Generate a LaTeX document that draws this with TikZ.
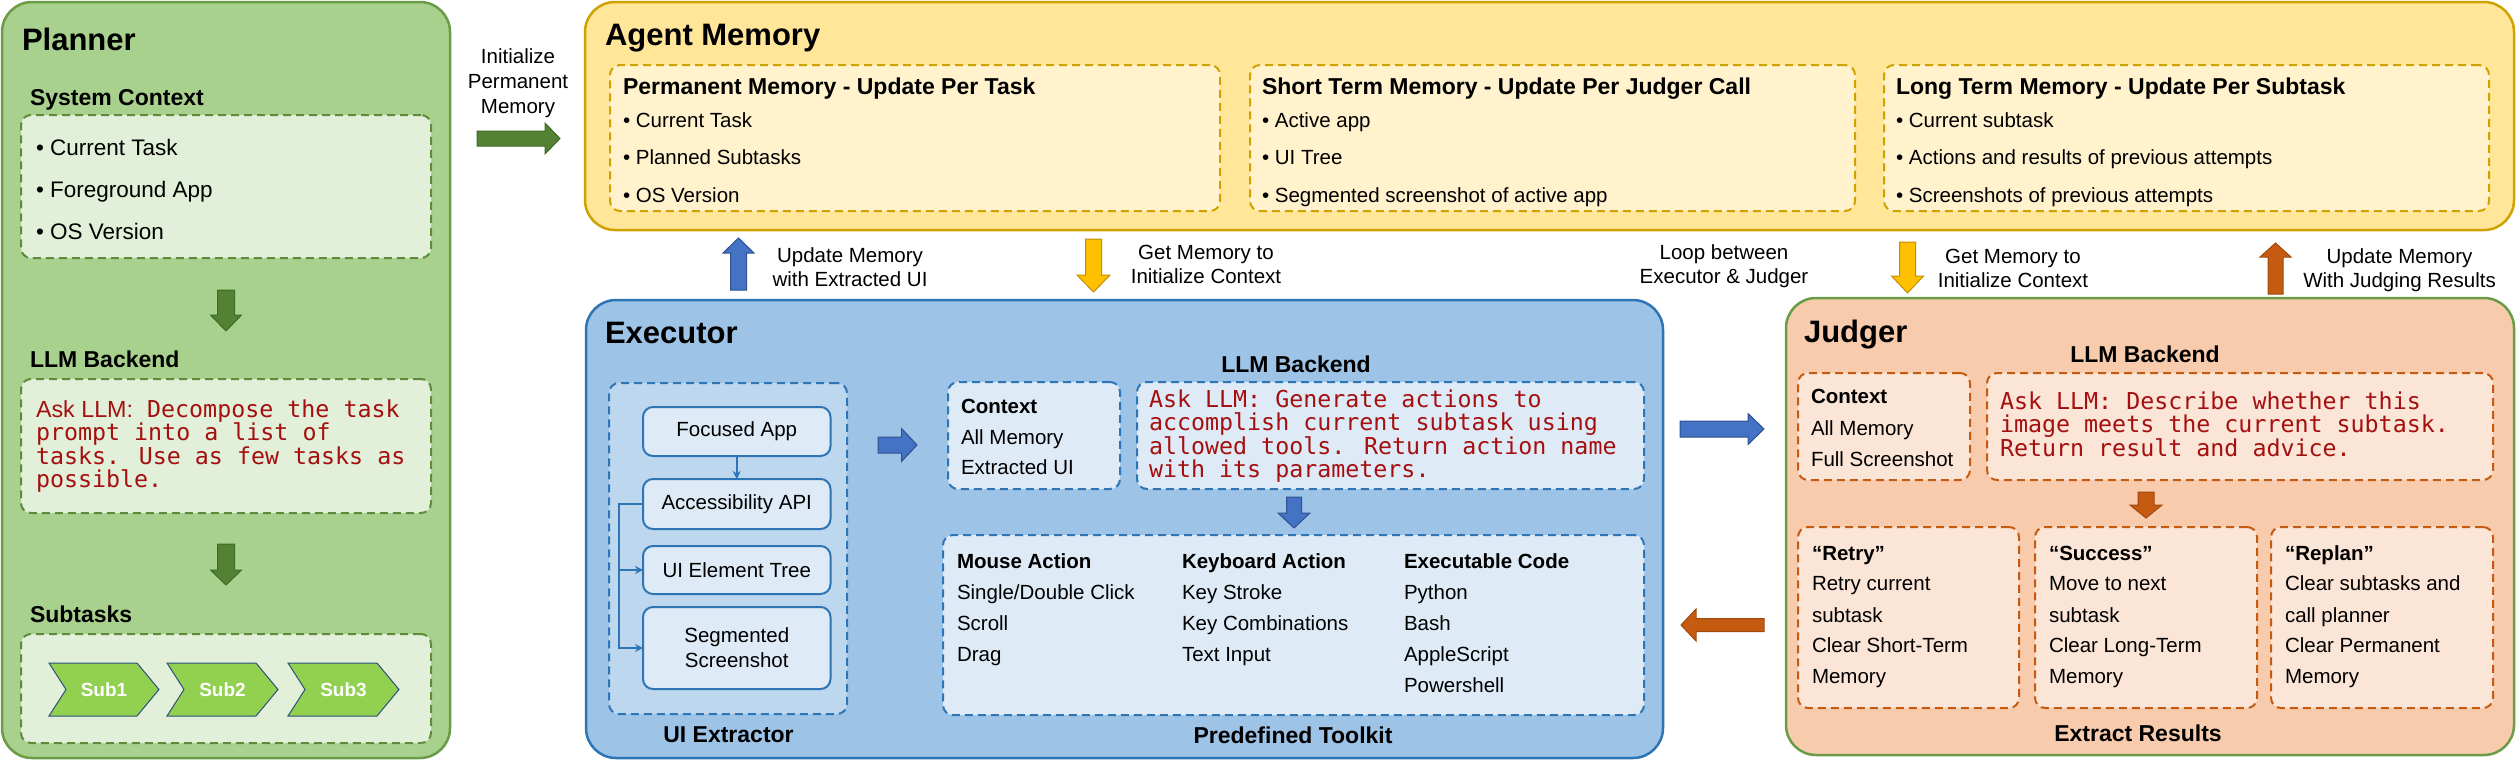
\documentclass[tikz,border=0pt]{standalone}
\usepackage{fontspec}
\setmainfont{Liberation Sans}
\newfontfamily\monof{DejaVu Sans Mono}
\usetikzlibrary{arrows.meta}

\definecolor{plF}{HTML}{A9D18E}
\definecolor{plB}{HTML}{6A9B47}
\definecolor{plI}{HTML}{E2F0D9}
\definecolor{plD}{HTML}{5E8A3C}
\definecolor{grA}{HTML}{548235}
\definecolor{grAB}{HTML}{3F6A26}
\definecolor{amF}{HTML}{FFE699}
\definecolor{amB}{HTML}{CFA200}
\definecolor{amI}{HTML}{FFF2CC}
\definecolor{exF}{HTML}{9DC3E6}
\definecolor{exB}{HTML}{2E75B6}
\definecolor{exU}{HTML}{BDD7EE}
\definecolor{exI}{HTML}{DEEBF7}
\definecolor{blA}{HTML}{4472C4}
\definecolor{blAB}{HTML}{2F528F}
\definecolor{ylA}{HTML}{FFC000}
\definecolor{ylAB}{HTML}{BF9000}
\definecolor{jgF}{HTML}{F8CBAD}
\definecolor{jgI}{HTML}{FBE5D6}
\definecolor{orA}{HTML}{C55A11}
\definecolor{orAB}{HTML}{9E4A0E}
\definecolor{redt}{HTML}{A50F0F}
\definecolor{chev}{HTML}{92D050}
\definecolor{chevB}{HTML}{2F4F7F}

\newcounter{tn}
\newcommand{\tx}[4][]{\stepcounter{tn}\edef\tnm{tx\arabic{tn}}\node[anchor=base west,#1] (\tnm) at (#2,#3) {#4};}
\newcommand{\tc}[4][]{\stepcounter{tn}\edef\tnm{tx\arabic{tn}}\node[anchor=base,#1] (\tnm) at (#2,#3) {#4};}
\newcommand{\bx}[6]{\node[#2, anchor=north west, minimum width={#5-#3}, minimum height={#6-#4}] (#1) at (#3,#4) {};}
% block arrows: style, tail, tip, center, shaft half, head half, head length
\newcommand{\arrR}[7]{\filldraw[#1] (#2,{#4-#5}) -- ({#3-#7},{#4-#5}) -- ({#3-#7},{#4-#6}) -- (#3,#4) -- ({#3-#7},{#4+#6}) -- ({#3-#7},{#4+#5}) -- (#2,{#4+#5}) -- cycle;}
\newcommand{\arrL}[7]{\filldraw[#1] (#2,{#4-#5}) -- ({#3+#7},{#4-#5}) -- ({#3+#7},{#4-#6}) -- (#3,#4) -- ({#3+#7},{#4+#6}) -- ({#3+#7},{#4+#5}) -- (#2,{#4+#5}) -- cycle;}
\newcommand{\arrD}[7]{\filldraw[#1] ({#4-#5},#2) -- ({#4-#5},{#3-#7}) -- ({#4-#6},{#3-#7}) -- (#4,#3) -- ({#4+#6},{#3-#7}) -- ({#4+#5},{#3-#7}) -- ({#4+#5},#2) -- cycle;}
\newcommand{\arrU}[7]{\filldraw[#1] ({#4-#5},#2) -- ({#4-#5},{#3+#7}) -- ({#4-#6},{#3+#7}) -- (#4,#3) -- ({#4+#6},{#3+#7}) -- ({#4+#5},{#3+#7}) -- ({#4+#5},#2) -- cycle;}
\newcommand{\chevron}[5]{% name, left, right, top, bottom
  \filldraw[chevst] (#2,#4) -- ({#3-22},#4) -- (#3,{(#4+#5)/2}) -- ({#3-22},#5) -- (#2,#5) -- ({#2+17},{(#4+#5)/2}) -- cycle;
  \node[chevtext] (#1) at ({(#2+#3)/2},{(#4+#5)/2}) {\csname chevlbl\endcsname};}

\begin{document}
\begin{tikzpicture}[x=1pt,y=-1pt,
  every node/.style={inner sep=0pt, outer sep=0pt},
  bigbox/.style={rounded corners=30pt, line width=2.5pt},
  dbox/.style={rounded corners=10pt, line width=2pt, dash pattern=on 8pt off 5pt},
  uibox/.style={draw=exB, fill=exI, rounded corners=10pt, line width=2pt, font=\fontsize{20.5}{25}\selectfont, align=center},
  t/.style={font=\fontsize{20.5}{24}\selectfont},
  tP/.style={font=\fontsize{22.5}{26}\selectfont},
  tb/.style={font=\bfseries\fontsize{20.5}{24}\selectfont},
  h/.style={font=\bfseries\fontsize{23}{27}\selectfont},
  ttl/.style={font=\bfseries\fontsize{31}{36}\selectfont},
  red/.style={font=\monof\fontsize{23.3}{24}\selectfont, text=redt},
  chevst/.style={fill=chev, draw=chevB, line width=1pt},
  chevtext/.style={font=\bfseries\fontsize{19}{22}\selectfont, text=white},
  garr/.style={fill=grA, draw=grAB, line width=1pt},
  barr/.style={fill=blA, draw=blAB, line width=1pt},
  yarr/.style={fill=ylA, draw=ylAB, line width=1pt},
  oarr/.style={fill=orA, draw=orAB, line width=1pt},
  conn/.style={draw=exB, line width=2pt, -{Stealth[length=8pt,width=8pt]}}]
\useasboundingbox (0,0) rectangle (2516,764);

% ---------------- Planner ----------------
\bx{planner}{bigbox, draw=plB, fill=plF}{2}{2}{450}{758}
\tx[ttl]{22}{50}{Planner}
\tx[h]{30}{105}{System Context}
\bx{sysctx}{dbox, draw=plD, fill=plI}{21}{115}{431}{258}
\tx[tP]{36}{155}{• Current Task}
\tx[tP]{36}{197}{• Foreground App}
\tx[tP]{36}{239}{• OS Version}
\arrD{garr}{290}{331}{226}{8.5}{15.5}{16}
\tx[h]{30}{367}{LLM Backend}
\bx{pllm}{dbox, draw=plD, fill=plI}{21}{379}{431}{513}
\tx[red]{36}{417}{{\rmfamily Ask LLM:} Decompose the task}
\tx[red]{36}{440.5}{prompt into a list of}
\tx[red]{36}{464}{tasks. Use as few tasks as}
\tx[red]{36}{487.5}{possible.}
\arrD{garr}{544}{585}{226}{8.5}{15.5}{15}
\tx[h]{30}{622}{Subtasks}
\bx{subs}{dbox, draw=plD, fill=plI}{21}{634}{431}{743}
\def\chevlbl{Sub1}\chevron{sub1}{49}{159}{663}{716}
\def\chevlbl{Sub2}\chevron{sub2}{167}{278}{663}{716}
\def\chevlbl{Sub3}\chevron{sub3}{288}{399}{663}{716}

% init arrow
\tc[t]{518}{63}{Initialize}
\tc[t]{518}{88}{Permanent}
\tc[t]{518}{113}{Memory}
\arrR{garr}{477}{560}{138.5}{7.5}{15.5}{15}

% ---------------- Agent Memory ----------------
\bx{mem}{bigbox, draw=amB, fill=amF}{585}{2}{2514}{230}
\tx[ttl]{605}{45}{Agent Memory}
\bx{perm}{dbox, draw=amB, fill=amI}{610}{65}{1220}{211}
\bx{short}{dbox, draw=amB, fill=amI}{1250}{65}{1855}{211}
\bx{long}{dbox, draw=amB, fill=amI}{1884}{65}{2489}{211}
\tx[h]{623}{94}{Permanent Memory - Update Per Task}
\tx[t]{623}{127}{• Current Task}
\tx[t]{623}{164}{• Planned Subtasks}
\tx[t]{623}{202}{• OS Version}
\tx[h]{1262}{94}{Short Term Memory - Update Per Judger Call}
\tx[t]{1262}{127}{• Active app}
\tx[t]{1262}{164}{• UI Tree}
\tx[t]{1262}{202}{• Segmented screenshot of active app}
\tx[h]{1896}{94}{Long Term Memory - Update Per Subtask}
\tx[t]{1896}{127}{• Current subtask}
\tx[t]{1896}{164}{• Actions and results of previous attempts}
\tx[t]{1896}{202}{• Screenshots of previous attempts}

% between arrows
\arrU{barr}{290}{238}{738.5}{8}{15.5}{15}
\tc[t]{850}{262}{Update Memory}
\tc[t]{850}{286}{with Extracted UI}
\arrD{yarr}{239}{292}{1093.5}{8}{16.5}{17}
\tc[t]{1206}{259}{Get Memory to}
\tc[t]{1206}{283}{Initialize Context}
\tc[t]{1724}{259}{Loop between}
\tc[t]{1724}{283}{Executor \& Judger}
\arrD{yarr}{242}{293}{1907.5}{8}{16}{17}
\tc[t]{2013}{263}{Get Memory to}
\tc[t]{2013}{287}{Initialize Context}
\arrU{oarr}{294}{243}{2275.5}{7.5}{15.5}{14}
\tc[t]{2399.5}{263}{Update Memory}
\tc[t]{2399.5}{287}{With Judging Results}

% ---------------- Executor ----------------
\bx{exec}{bigbox, draw=exB, fill=exF}{586}{300}{1663}{758}
\tx[ttl]{605}{343}{Executor}
\bx{uiext}{dbox, draw=exB, fill=exU}{609}{383}{847}{714}
\node[uibox, anchor=north west, minimum width=187.5, minimum height=49] (focused) at (643,407) {Focused App};
\node[uibox, anchor=north west, minimum width=187.5, minimum height=50] (access) at (643,479) {Accessibility API};
\node[uibox, anchor=north west, minimum width=187.5, minimum height=48] (tree) at (643,546) {UI Element Tree};
\node[uibox, anchor=north west, minimum width=187.5, minimum height=82] (seg) at (643,607) {Segmented\\Screenshot};
\draw[conn] (focused) -- (access);
\draw[conn] (access.west) -- ++(-24,0) |- (tree.west);
\draw[conn] (access.west) -- ++(-24,0) |- (seg.west);
\tc[h]{728.5}{742}{UI Extractor}
\arrR{barr}{878}{917}{445}{8}{16.5}{15.5}
\bx{ectx}{dbox, draw=exB, fill=exI}{948}{382}{1120}{489}
\tx[tb]{961}{413}{Context}
\tx[t]{961}{444}{All Memory}
\tx[t]{961}{474}{Extracted UI}
\tc[h]{1296}{372}{LLM Backend}
\bx{ellm}{dbox, draw=exB, fill=exI}{1137}{382}{1644}{489}
\tx[red]{1149}{407}{Ask LLM: Generate actions to}
\tx[red]{1149}{430.5}{accomplish current subtask using}
\tx[red]{1149}{454}{allowed tools. Return action name}
\tx[red]{1149}{477}{with its parameters.}
\arrD{barr}{497}{528}{1294}{7.5}{16}{15}
\bx{tool}{dbox, draw=exB, fill=exI}{943}{535}{1644}{715}
\tx[tb]{957}{568}{Mouse Action}
\tx[t]{957}{599}{Single/Double Click}
\tx[t]{957}{630}{Scroll}
\tx[t]{957}{661}{Drag}
\tx[tb]{1182}{568}{Keyboard Action}
\tx[t]{1182}{599}{Key Stroke}
\tx[t]{1182}{630}{Key Combinations}
\tx[t]{1182}{661}{Text Input}
\tx[tb]{1404}{568}{Executable Code}
\tx[t]{1404}{599}{Python}
\tx[t]{1404}{630}{Bash}
\tx[t]{1404}{661}{AppleScript}
\tx[t]{1404}{692}{Powershell}
\tc[h]{1293}{743}{Predefined Toolkit}

% exec <-> judger
\arrR{barr}{1680}{1764}{429}{8}{15.5}{16}
\arrL{oarr}{1764}{1681}{625}{6.5}{16}{15}

% ---------------- Judger ----------------
\bx{judger}{bigbox, draw=plB, fill=jgF}{1786}{298}{2514}{755}
\tx[ttl]{1804}{342}{Judger}
\tc[h]{2145}{362}{LLM Backend}
\bx{jctx}{dbox, draw=orA, fill=jgI}{1798}{373}{1970}{480}
\tx[tb]{1811}{403}{Context}
\tx[t]{1811}{435}{All Memory}
\tx[t]{1811}{466}{Full Screenshot}
\bx{jllm}{dbox, draw=orA, fill=jgI}{1987}{373}{2493}{480}
\tx[red]{2000}{409}{Ask LLM: Describe whether this}
\tx[red]{2000}{432.5}{image meets the current subtask.}
\tx[red]{2000}{456}{Return result and advice.}
\arrD{oarr}{492}{518}{2146}{8}{16}{13}
\bx{retry}{dbox, draw=orA, fill=jgI}{1798}{527}{2019}{708}
\bx{success}{dbox, draw=orA, fill=jgI}{2035}{527}{2257}{708}
\bx{replan}{dbox, draw=orA, fill=jgI}{2271}{527}{2493}{708}
\tx[tb]{1812}{560}{“Retry”}
\tx[t]{1812}{590}{Retry current}
\tx[t]{1812}{622}{subtask}
\tx[t]{1812}{652}{Clear Short-Term}
\tx[t]{1812}{683}{Memory}
\tx[tb]{2049}{560}{“Success”}
\tx[t]{2049}{590}{Move to next}
\tx[t]{2049}{622}{subtask}
\tx[t]{2049}{652}{Clear Long-Term}
\tx[t]{2049}{683}{Memory}
\tx[tb]{2285}{560}{“Replan”}
\tx[t]{2285}{590}{Clear subtasks and}
\tx[t]{2285}{622}{call planner}
\tx[t]{2285}{652}{Clear Permanent}
\tx[t]{2285}{683}{Memory}
\tc[h]{2138}{741}{Extract Results}
\end{tikzpicture}
\end{document}
